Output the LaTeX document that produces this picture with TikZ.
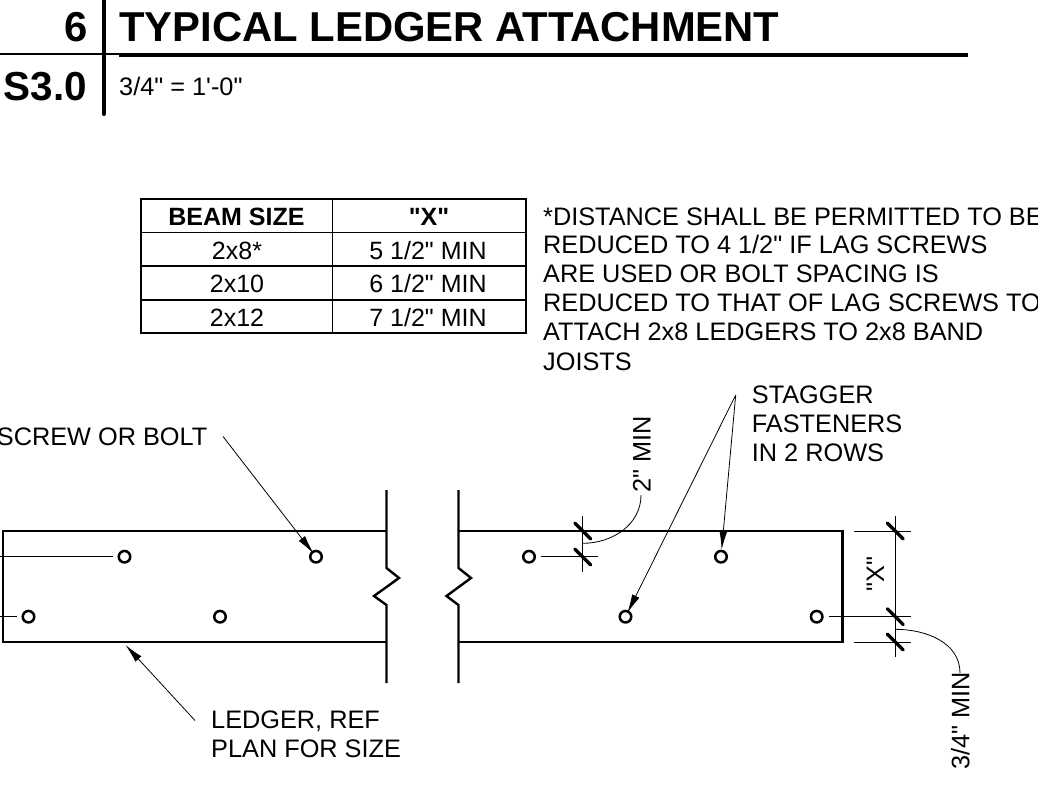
\documentclass[tikz,border=0pt]{standalone}
\usepackage{fontspec}
\newfontfamily\lsans{Liberation Sans}
\usepackage{tikz}
\usetikzlibrary{arrows.meta,positioning}
\newcommand{\notesize}{\lsans\fontsize{25.3}{29}\selectfont}
\newcommand{\titlesize}{\lsans\fontsize{41.8}{46}\selectfont\bfseries}
\newcommand{\sheetsize}{\lsans\fontsize{40.5}{46}\selectfont\bfseries}
\tikzstyle{note} = [anchor=base west,inner sep=0pt,font=\notesize]
\tikzstyle{upnote} = [anchor=base west,inner sep=0pt,rotate=90,font=\notesize]
\tikzstyle{cell} = [anchor=base,inner sep=0pt,font=\lsans\fontsize{25}{29}\selectfont]
\tikzstyle{headcell} = [anchor=base,inner sep=0pt,font=\lsans\fontsize{25}{29}\selectfont\bfseries]
\tikzstyle{hole} = [circle,draw,line width=2.5pt,minimum size=11.5pt,inner sep=0pt]
\tikzstyle{edge} = [line width=2.4pt]
\tikzstyle{thin} = [line width=0.8pt]
\tikzstyle{tick} = [line width=3.3pt,line cap=round]
\tikzstyle{arrow} = [line width=0.8pt,-{Latex[length=19pt,width=8pt]}]

\begin{document}
\begin{tikzpicture}[x=1pt,y=-1pt]
\useasboundingbox (0,0) rectangle (1038,785);
\clip (0,0) rectangle (1038,785);

% Title block
\draw[line width=2.5pt] (0,54) -- (119,54);
\draw[line width=4pt] (119,54.8) -- (968,54.8);
\draw[line width=4pt,line cap=round] (103.7,0) -- (103.7,114);
\node[anchor=base east,inner sep=0pt,font=\titlesize] (num) at (88,41.5) {6};
\node[anchor=base west,inner sep=0pt,font=\titlesize] (title) at (119,41.5) {TYPICAL LEDGER ATTACHMENT};
\node[anchor=base east,inner sep=0pt,font=\sheetsize] (sheet) at (87,100) {S3.0};
\node[note] (scale) at (119,95) {3/4" = 1'-0"};

% Table
\draw[line width=2pt] (141,198.5) rectangle (526,333);
\draw[line width=1.2pt] (141,232.5) -- (526,232.5);
\draw[line width=1.2pt] (141,266) -- (526,266);
\draw[line width=1.2pt] (141,300) -- (526,300);
\draw[line width=1.2pt] (332.5,198.5) -- (332.5,333);
\node[headcell] (beam) at (236.5,225) {BEAM SIZE};
\node[headcell] (xhead) at (429,225) {"X"};
\node[cell] (r1a) at (237,259) {2x8*};
\node[cell] (r1b) at (428,259) {5 1/2" MIN};
\node[cell] (r2a) at (237,292) {2x10};
\node[cell] (r2b) at (428,292) {6 1/2" MIN};
\node[cell] (r3a) at (237,326) {2x12};
\node[cell] (r3b) at (428,326) {7 1/2" MIN};

% Footnote
\node[note] (foot1) at (543,225) {*DISTANCE SHALL BE PERMITTED TO BE};
\node[note] (foot2) at (543,253.5) {REDUCED TO 4 1/2" IF LAG SCREWS};
\node[note] (foot3) at (543,282.5) {ARE USED OR BOLT SPACING IS};
\node[note] (foot4) at (543,311.5) {REDUCED TO THAT OF LAG SCREWS TO};
\node[note] (foot5) at (543,340.5) {ATTACH 2x8 LEDGERS TO 2x8 BAND};
\node[note] (foot6) at (543,370) {JOISTS};

% Ledger
\draw[edge] (386.5,531) -- (3,531) -- (3,642) -- (386.5,642);
\draw[edge] (458.5,531) -- (842.5,531) -- (842.5,642) -- (458.5,642);
\draw[edge] (386.5,490) -- (386.5,568) -- (399,578) -- (374,596) -- (386.5,605) -- (386.5,683);
\draw[edge] (458.5,490) -- (458.5,568) -- (471,578) -- (446.5,596) -- (458.5,605) -- (458.5,683);

% Fasteners
\node[hole] (h1) at (124.5,556.7) {};
\node[hole] (h2) at (316,556.7) {};
\node[hole] (h3) at (28.5,616.7) {};
\node[hole] (h4) at (220,616.7) {};
\node[hole] (h5) at (529,556.7) {};
\node[hole] (h6) at (721,556.7) {};
\node[hole] (h7) at (625.5,616.7) {};
\node[hole] (h8) at (816.7,616.7) {};

% Edge distance lines
\coordinate (e1) at (0,556.7);
\coordinate (e2) at (113,556.7);
\coordinate (e3) at (0,616.7);
\coordinate (e4) at (17,616.7);
\coordinate (e5) at (540.7,556.7);
\coordinate (e6) at (598.3,556.7);
\coordinate (e7) at (829,616.7);
\coordinate (e8) at (910.7,616.7);
\draw[thin] (e1) -- (e2);
\draw[thin] (e3) -- (e4);
\draw[thin] (e5) -- (e6);
\draw[thin] (e7) -- (e8);

% 2" dimension
\draw[thin] (582.7,516) -- (582.7,571.7);
\draw[tick] (574.7,523) -- (590.7,539);
\draw[tick] (574.7,549) -- (590.7,565);
\node[upnote] (twomin) at (650.7,493) {2" MIN};
\coordinate (c1) at (582.7,543.3);
\coordinate (c2) at (641,495);
\draw[thin] (c1) to[out=0,in=-90] (c2);

% X dimension
\draw[thin] (854,531) -- (910.7,531);
\draw[thin] (854,642) -- (910.7,642);
\draw[thin] (895.3,516) -- (895.3,656.7);
\draw[tick] (887.3,523) -- (903.3,539);
\draw[tick] (887.3,608.7) -- (903.3,624.7);
\draw[tick] (887.3,634) -- (903.3,650);
\node[upnote,anchor=base] (xdim) at (884,574) {"X"};
\node[upnote] (edgemin) at (969.3,770) {3/4" MIN};
\coordinate (c3) at (895.3,629.3);
\coordinate (c4) at (960,673);
\draw[thin] (c3) to[out=0,in=90] (c4);

% Leaders
\node[anchor=base east,inner sep=0pt,font=\notesize] (screw) at (207.5,445) {SCREW OR BOLT};
\coordinate (s1) at (223,436.5);
\draw[arrow,shorten >=4pt] (s1) -- (h2.center);
\node[note] (ledger1) at (211,728) {LEDGER, REF};
\node[note] (ledger2) at (211,757) {PLAN FOR SIZE};
\coordinate (l1) at (195,720.5);
\coordinate (l2) at (125.5,645);
\draw[arrow] (l1) -- (l2);
\node[note] (stagger1) at (751.7,403) {STAGGER};
\node[note] (stagger2) at (751.7,432.7) {FASTENERS};
\node[note] (stagger3) at (751.7,461.7) {IN 2 ROWS};
\coordinate (s2) at (735.7,395);
\draw[arrow] (s2) -- (h6);
\draw[arrow,shorten >=4pt] (s2) -- (h7.center);
\end{tikzpicture}
\end{document}
